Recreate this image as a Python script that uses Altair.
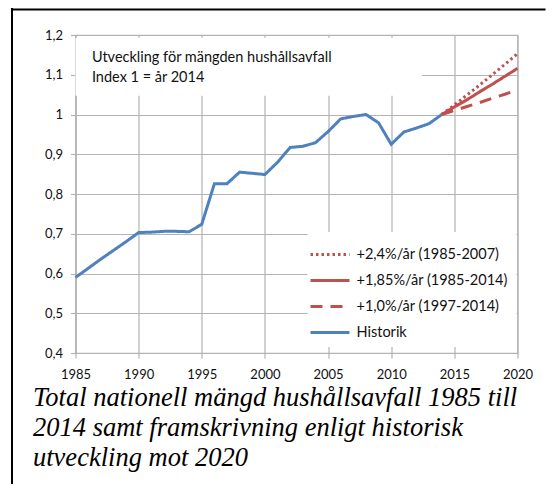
import altair as alt
import pandas as pd

# ---- data ----
hist_years = list(range(1985, 2015))
hist_values = [0.59, 0.613, 0.636, 0.658, 0.68, 0.703, 0.704, 0.706, 0.706, 0.705,
               0.724, 0.826, 0.826, 0.855, 0.852, 0.849, 0.88, 0.917, 0.92, 0.929,
               0.957, 0.989, 0.995, 1.0, 0.979, 0.925, 0.956, 0.966, 0.977, 1.0]

proj_years = [2014, 2015, 2016, 2017, 2018, 2019, 2020]
proj_24 = [1.0, 1.024, 1.049, 1.074, 1.1, 1.126, 1.153]
proj_185 = [1.0, 1.019, 1.037, 1.057, 1.076, 1.096, 1.116]
proj_10 = [1.0, 1.01, 1.02, 1.03, 1.041, 1.051, 1.062]

series_names = ["+2,4%/år (1985-2007)", "+1,85%/år (1985-2014)",
                "+1,0%/år (1997-2014)", "Historik"]
series_colors = ["#C0504D", "#C0504D", "#C0504D", "#4F81BD"]
series_dashes = [[2.5, 3], [1, 0], [12, 8], [1, 0]]

x_ticks = [1985, 1990, 1995, 2000, 2005, 2010, 2015, 2020]
y_ticks = [0.4, 0.5, 0.6, 0.7, 0.8, 0.9, 1.0, 1.1, 1.2]

note_lines = ["Utveckling för mängden hushållsavfall", "\u00a0Index 1 = år 2014"]
caption = ["Total nationell mängd hushållsavfall 1985 till",
           "2014 samt framskrivning enligt historisk",
           "utveckling mot 2020"]

rows = []
for y, v in zip(hist_years, hist_values):
    rows.append({"year": y, "value": v, "serie": series_names[3]})
for vals, name in [(proj_24, series_names[0]), (proj_185, series_names[1]), (proj_10, series_names[2])]:
    for y, v in zip(proj_years, vals):
        rows.append({"year": y, "value": v, "serie": name})
df = pd.DataFrame(rows)

xscale = alt.Scale(domain=[1985, 2020], nice=False, zero=False)
yscale = alt.Scale(domain=[0.4, 1.2], nice=False, zero=False)
x_axis = alt.Axis(values=x_ticks, format="d", labelPadding=10, labelFlush=False)
y_axis = alt.Axis(values=y_ticks, labelPadding=8, labelFlush=False,
                  labelExpr="replace(format(datum.value, '.1~f'), '.', ',')")

legend = alt.Legend(
    title=None, orient="none", legendX=232, legendY=197,
    fillColor="white", padding=8,
    symbolType="M-1.5,0H1.5", symbolSize=676, symbolStrokeWidth=3,
    labelFont="Lato", labelFontSize=14.5, labelColor="#111", rowPadding=5,
    labelOffset=12,
)

# white background box behind the in-plot note (data coordinates)
box = alt.Chart(pd.DataFrame({"x": [1985], "x2": [2012.45], "y": [1.047], "y2": [1.193]})).mark_rect(
    fill="white").encode(
    x=alt.X("x:Q", scale=xscale, axis=x_axis, title=None), x2="x2:Q",
    y=alt.Y("y:Q", scale=yscale, axis=y_axis, title=None), y2="y2:Q",
)

lines = alt.Chart(df).mark_line(strokeWidth=3).encode(
    x=alt.X("year:Q", scale=xscale, title=None, axis=x_axis),
    y=alt.Y("value:Q", scale=yscale, title=None, axis=y_axis),
    color=alt.Color("serie:N", scale=alt.Scale(domain=series_names, range=series_colors), legend=legend),
    strokeDash=alt.StrokeDash("serie:N", scale=alt.Scale(domain=series_names, range=series_dashes), legend=legend),
    order=alt.Order("serie:N"),
)

note = alt.Chart(pd.DataFrame({"t": note_lines, "x": [1986.3, 1986.3], "y": [1.142, 1.091]})).mark_text(
    align="left", baseline="middle", font="Lato", fontSize=14.5, color="#111"
).encode(x=alt.X("x:Q", scale=xscale, axis=x_axis, title=None),
         y=alt.Y("y:Q", scale=yscale, axis=y_axis, title=None), text="t:N")

cap = alt.Chart(pd.DataFrame({"a": [0]})).mark_text(
    align="left", baseline="alphabetic", font="Liberation Serif", fontStyle="italic",
    fontSize=26.5, color="black", lineHeight=30,
).encode(x=alt.value(-42.5), y=alt.value(371), text=alt.value(caption))

# page frame (left and top black edges), drawn in pixels around the plot
frame_left = alt.Chart(pd.DataFrame({"fx": [-64.5], "fx2": [-62.5], "fy": [-27], "fy2": [449]})).mark_rect(
    color="black").encode(
    x=alt.X("fx:Q", scale=None, axis=None), x2="fx2:Q",
    y=alt.Y("fy:Q", scale=None, axis=None), y2="fy2:Q")
frame_top = alt.Chart(pd.DataFrame({"gx": [-64.5], "gx2": [470], "gy": [-25.5], "gy2": [-25.5]})).mark_rule(
    color="black", strokeWidth=2).encode(
    x=alt.X("gx:Q", scale=None, axis=None), x2="gx2:Q",
    y=alt.Y("gy:Q", scale=None, axis=None), y2="gy2:Q")

chart = alt.layer(box, lines, note, cap, frame_left, frame_top).properties(
    width=442, height=318,
    autosize="none",
    padding={"left": 67.5, "top": 27, "right": 30, "bottom": 131},
).configure_axis(
    grid=True, gridColor="#B3B3B3", gridWidth=1.2,
    domainColor="#B3B3B3", domainWidth=1.2, tickColor="#B3B3B3", tickWidth=1.2, tickSize=5,
    labelFont="Lato", labelFontSize=13, labelColor="#111",
).configure_view(stroke="#B3B3B3", strokeWidth=1.2)

chart.save("out.html", embed_options={"renderer": "svg", "actions": False})
